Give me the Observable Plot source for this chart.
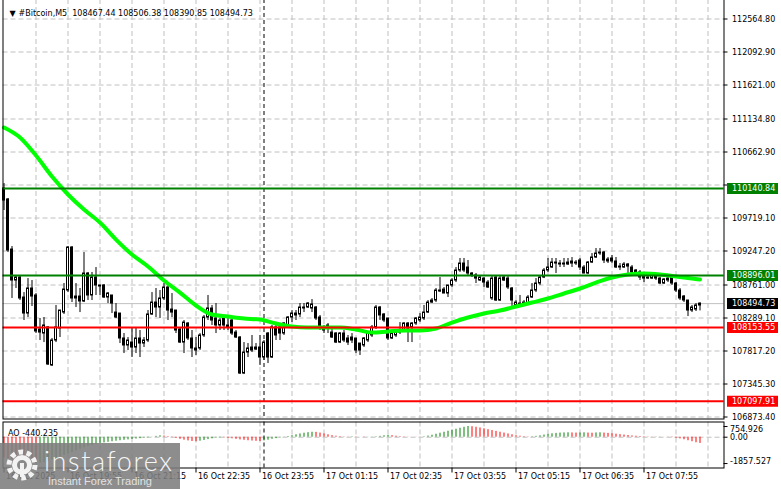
<!DOCTYPE html>
<html><head><meta charset="utf-8">
<script src="https://cdn.jsdelivr.net/npm/d3@7"></script>
<script src="https://cdn.jsdelivr.net/npm/@observablehq/plot@0.6"></script>
<style>
html,body{margin:0;padding:0;background:#fff;}
#wrap{position:relative;width:781px;height:489px;overflow:hidden;background:#fff;}
#wrap svg{display:block;}
#wm{position:absolute;left:0;top:0;pointer-events:none;}
</style></head><body><div id="wrap"></div>
<script>
// ---- candles (#Bitcoin M5, bar 0 = 16 Oct 18:35) ----
const open = [
110141,109984,109268,108825,108868,108582,108353,108711,108611,108124,
108067,108153,107610,107967,108139,108367,108682,109297,108568,108596,
108525,108925,108611,108868,108739,108754,108582,108611,108367,108353,
107996,107896,107938,107867,107996,107924,107967,108339,108510,108439,
108568,108725,108410,108396,108124,107938,108210,107996,107853,107853,
108039,108296,108425,108282,108182,108296,108182,108253,108081,108010,
107495,107795,107867,107867,107867,107724,108067,107724,108153,108153,
108067,108182,108296,108325,108339,108425,108439,108425,108439,108296,
108153,108182,108081,108067,107938,108067,107996,108010,107996,107924,
107896,107967,108039,108153,108439,108339,108282,107996,108039,108081,
108110,108210,108153,108210,108253,108282,108367,108510,108539,108668,
108696,108639,108754,108825,108968,109068,109011,108925,108897,108825,
108853,108796,108568,108868,108539,108868,108853,108711,108468,108496,
108482,108496,108582,108682,108782,108868,108968,109011,109082,109068,
109068,109054,109097,109082,109111,109011,108925,109082,109154,109211,
109225,109125,109140,109097,109025,109011,109054,109011,108968,108940,
108897,108853,108853,108897,108853,108782,108825,108868,108782,108682,
108596,108539,108396,108410,108467.44];
const high = [
110212,109998,109311,108882,108882,108653,108853,108825,108639,108282,
108296,108167,107996,108468,108396,108782,109311,109311,108782,108711,
109225,108940,108940,109011,108754,108768,108653,108611,108496,108353,
108067,108010,108153,108139,108110,108010,108396,108653,108711,108682,
108782,108754,108639,108396,108153,108253,108224,108110,108010,108067,
108325,108611,108468,108496,108282,108325,108296,108282,108110,108024,
107938,107924,108039,107924,108039,107967,108081,108182,108210,108182,
108224,108310,108396,108396,108496,108496,108510,108553,108453,108325,
108182,108210,108139,108081,108081,108110,108039,108067,107996,107924,
108010,108081,108182,108468,108453,108353,108282,108081,108110,108224,
108224,108224,108224,108296,108353,108468,108539,108568,108711,108868,
108725,108754,108853,109011,109140,109140,109111,108940,108925,108897,
108868,108825,108882,108882,108882,108897,108882,108725,108539,108611,
108539,108611,108782,108853,108897,108997,109140,109140,109140,109111,
109140,109140,109154,109111,109140,109040,109097,109211,109283,109283,
109240,109154,109183,109154,109068,109082,109068,109040,108982,108968,
108925,108882,108911,108925,108868,108853,108868,108897,108796,108711,
108611,108539,108468,108496,108506.38];
const low = [
109826,109225,108568,108711,108539,108253,108296,108453,108067,107967,
107938,107610,107595,107938,108010,108339,108653,108510,108439,108367,
108510,108539,108539,108611,108611,108568,108496,108353,108282,107924,
107781,107824,107724,107781,107724,107867,107938,108325,108296,108282,
108539,108253,108296,108067,107924,107781,107967,107724,107753,107824,
108010,108253,108182,108067,108110,108110,108110,108039,107996,107481,
107481,107724,107795,107824,107610,107681,107638,107710,107967,107967,
108039,108153,108224,108253,108296,108367,108425,108367,108253,108110,
108067,108067,107996,107924,107924,107938,107896,107924,107781,107753,
107867,107938,108010,108124,108253,108224,107967,107981,108010,108053,
108081,107938,107938,108182,108224,108253,108353,108496,108510,108653,
108639,108582,108725,108796,108940,108940,108897,108868,108782,108811,
108725,108711,108539,108525,108525,108811,108696,108439,108453,108453,
108453,108468,108568,108653,108754,108853,108940,108997,108925,109011,
109011,109040,109011,109040,108968,108925,108911,109068,109140,109183,
109068,109068,109068,108997,108968,108997,108925,108925,108925,108825,
108796,108839,108839,108825,108768,108768,108796,108754,108653,108539,
108510,108310,108367,108382,108390.85];
const close = [
109969,109254,108825,108868,108568,108353,108711,108596,108096,108081,
108182,107624,107967,108153,108396,108696,109297,108568,108596,108525,
108925,108611,108868,108754,108754,108582,108639,108496,108296,107996,
107896,107967,107867,107996,107924,107967,108339,108510,108439,108568,
108725,108396,108367,108110,107938,108224,107996,107853,107824,108039,
108296,108425,108253,108182,108253,108182,108153,108067,108010,107495,
107795,107853,107824,107838,107724,107938,107724,108153,108039,108067,
108210,108296,108353,108353,108439,108439,108496,108482,108282,108167,
108110,108139,108010,107938,108067,107967,107938,107967,107824,107824,
107996,108067,108153,108439,108325,108253,107996,108067,108081,108110,
108210,108139,108210,108282,108296,108367,108510,108539,108682,108682,
108639,108754,108825,108968,109068,108968,108925,108897,108853,108868,
108796,108725,108853,108539,108853,108825,108725,108539,108510,108468,
108510,108582,108682,108782,108868,108968,109011,109082,109068,109054,
109054,109082,109068,109068,109011,108925,109082,109154,109211,109225,
109111,109097,109097,109011,109011,109054,109025,108940,108940,108868,
108853,108868,108897,108853,108782,108839,108853,108782,108682,108568,
108539,108396,108439,108468,108494.73];

// ---- moving average (read at every 4th bar) ----
const maBar = [0,4,8,12,16,20,24,28,32,36,40,44,48,52,56,60,64,68,72,76,80,84,88,92,96,100,
  104,108,112,116,120,124,128,132,136,140,144,148,152,156,160,164,168,172,174];
const maValue = [111013,110870,110612,110312,110055,109840,109654,109411,109197,109025,108825,
  108653,108468,108339,108310,108282,108267,108210,108167,108153,108153,108153,108124,108081,
  108096,108110,108110,108139,108224,108296,108353,108396,108453,108510,108568,108639,108711,
  108796,108868,108911,108925,108911,108882,108853,108839];

// ---- Awesome Oscillator ----
const aoValue = [
-1450,-1520,-1600,-1660,-1720,-1770,-1810,-1840,-1857.527,-1830,
-1780,-1700,-1610,-1510,-1400,-1290,-1180,-1070,-960,-850,
-750,-660,-580,-510,-450,-400,-360,-320,-285,-250,
-220,-190,-160,-130,-100,-70,-40,-10,60,100,
80,40,-30,-90,-150,-210,-260,-300,-320,-280,
-230,-170,-110,-60,-40,-50,-70,-110,-150,-190,
-220,-250,-270,-290,-300,-260,-210,-150,-100,-50,
-10,50,110,170,230,280,320,350,340,290,
230,170,110,70,40,20,10,30,20,0,
-20,-10,10,30,60,100,130,110,70,40,
20,10,0,-10,10,30,80,140,210,280,
350,420,490,560,630,700,754.926,740,700,650,
590,530,470,410,350,290,230,170,110,70,
40,20,30,60,100,150,200,240,270,290,
300,310,300,290,300,310,290,280,300,310,
290,270,240,210,180,150,120,90,70,50,
30,20,10,20,10,0,-10,-30,-70,-120,
-180,-250,-320,-390,-440.235];

// ---- levels and labels ----
const levelPrice = [110140.84, 108896.01, 108153.55, 107097.91];
const levelLabel = ["110140.84", "108896.01", "108153.55", "107097.91"];
const levelColor = ["#008000", "#008000", "#ff0000", "#ff0000"];
const lastPrice = 108494.73;
const lastLabel = "108494.73";
const gridPrice = [112564.80,112092.90,111621.00,111134.80,110662.90,110191.00,109719.10,109247.20,108761.00,108289.10,107817.20,107345.30,106873.40];
const axisPrice = [112564.80,112092.90,111621.00,111134.80,110662.90,109719.10,109247.20,108761.00,108289.10,107817.20,107345.30,106873.40];
const axisLabel = ["112564.80","112092.90","111621.00","111134.80","110662.90","109719.10","109247.20","108761.00","108289.10","107817.20","107345.30","106873.40"];
const gridBar = [8,16,24,32,40,48,56,64,72,80,88,96,104,112,120,128,136,144,152,160,168,176];
const timeBar = [0,16,32,48,64,80,96,112,128,144,160];
const timeLabel = ["16 Oct 2025","16 Oct 19:55","16 Oct 21:15","16 Oct 22:35","16 Oct 23:55","17 Oct 01:15","17 Oct 02:35","17 Oct 03:55","17 Oct 05:15","17 Oct 06:35","17 Oct 07:55"];
const sepBar = 65; // 17 Oct 00:00
const aoTickValue = [754.926, 0, -1857.527];
const aoTickLabel = ["754.926", "0.00", "-1857.527"];
const titleText = "#Bitcoin,M5  108467.44 108506.38 108390.85 108494.73";
const aoTitle = "AO -440.235";

const FONT = "DejaVu Sans, Verdana, sans-serif";
const n = Math.min(open.length, high.length, low.length, close.length);
const bars = d3.range(n).map(i => ({i, o: open[i], h: high[i], l: low[i], c: close[i]}));
const ma = maBar.map((b, j) => ({i: b, v: maValue[j]}));
const ao = aoValue.map((v, i) => ({i, v, up: i > 0 && v >= aoValue[i - 1]}));
const levels = levelPrice.map((v, j) => ({v, t: levelLabel[j], c: levelColor[j]}));
const boxes = levels.concat([{v: lastPrice, t: lastLabel, c: "#000000"}]);
const axisItems = axisPrice.map((v, j) => ({v, t: axisLabel[j]}));
const timeItems = timeBar.map((b, j) => ({i: b, t: timeLabel[j]}));
const aoTicks = aoTickValue.map((v, j) => ({v, t: aoTickLabel[j]}));

const xScale = {type: "linear", domain: [0, 180], range: [3.5, 723.5], axis: null};
const grid = {stroke: "#c0c0c0", strokeDasharray: "5,3"};

const main = Plot.plot({
  width: 781, height: 420,
  marginLeft: 2.5, marginRight: 57.5, marginTop: -1, marginBottom: 1.5,
  style: {fontFamily: FONT, fontSize: "8px", background: "white", overflow: "visible"},
  x: xScale,
  y: {type: "linear", domain: [106823.35, 112829.35], range: [420, 0], axis: null},
  marks: [
    Plot.ruleY(gridPrice, grid),
    Plot.ruleX(gridBar, grid),
    Plot.ruleY([lastPrice], {stroke: "#c0c0c0"}),
    Plot.ruleX([sepBar], {stroke: "black", strokeDasharray: "4,3"}),
    Plot.ruleX(bars, {x: "i", y1: "l", y2: "h", stroke: "black"}),
    Plot.rect(bars, {x1: d => d.i - 0.25, x2: d => d.i + 0.25, y1: "o", y2: "c",
      fill: d => d.c >= d.o ? "white" : "black", stroke: "black"}),
    Plot.line(ma, {x: "i", y: "v", stroke: "#00ff00", strokeWidth: 4, curve: "monotone-x"}),
    Plot.ruleY(levels, {y: "v", stroke: "c", strokeWidth: 2}),
    Plot.frame({stroke: "black"}),
    Plot.ruleY(gridPrice, {x1: 180, x2: 181, stroke: "black"}),
    Plot.text(axisItems, {x: 180, y: "v", text: "t", textAnchor: "start", dx: 8, fill: "black"}),
    Plot.ruleY(boxes, {y: "v", x1: 180.875, x2: 193.625, stroke: "c", strokeWidth: 11}),
    Plot.text(boxes, {x: 180, y: "v", text: "t", textAnchor: "start", dx: 8, fill: "white"}),
    Plot.text(["\u25BC"], {frameAnchor: "top-left", dx: 6.5, dy: 10.5, textAnchor: "start", fontSize: 8}),
    Plot.text([titleText], {frameAnchor: "top-left", dx: 15.5, dy: 10.5, textAnchor: "start", fill: "black"})
  ]
});

const aoPlot = Plot.plot({
  width: 781, height: 69,
  marginLeft: 2.5, marginRight: 57.5, marginTop: 1.5, marginBottom: 21.5,
  style: {fontFamily: FONT, fontSize: "8px", background: "white", overflow: "visible"},
  x: xScale,
  y: {type: "linear", domain: [-2171, 1072], range: [47.5, 1.5], axis: null},
  marks: [
    Plot.ruleY([0], grid),
    Plot.ruleX(gridBar, grid),
    Plot.ruleX([sepBar], {stroke: "black", strokeDasharray: "4,3"}),
    Plot.ruleX(ao, {x: "i", y1: 0, y2: "v", stroke: d => d.up ? "#008000" : "#ff0000"}),
    Plot.frame({stroke: "black"}),
    Plot.ruleY(aoTicks, {y: "v", x1: 180, x2: 181, stroke: "black"}),
    Plot.text(aoTicks, {x: 180, y: "v", text: "t", textAnchor: "start", dx: 6,
      dy: 0, fill: "black", lineAnchor: "middle"}),
    Plot.text([aoTitle], {frameAnchor: "top-left", dx: 5, dy: 8.5, textAnchor: "start", fill: "black"}),
    Plot.ruleX(timeBar, {insetTop: 41, dy: 5, stroke: "black"}),
    Plot.text(timeItems, {x: "i", text: "t", frameAnchor: "bottom", dy: 10.5, dx: 2, textAnchor: "start", fill: "black"})
  ]
});

const wrap = document.getElementById("wrap");
wrap.appendChild(main);
wrap.appendChild(aoPlot);

// nudge the outer AO scale labels inward like the terminal does
aoPlot.querySelectorAll("text").forEach(t => {
  if (t.textContent === "754.926") t.setAttribute("transform", (t.getAttribute("transform") || "") + " translate(0,3)");
  if (t.textContent === "-1857.527") t.setAttribute("transform", (t.getAttribute("transform") || "") + " translate(0,-2)");
});

// watermark overlay
const ns = "http://www.w3.org/2000/svg";
const wm = document.createElementNS(ns, "svg");
wm.setAttribute("id", "wm");
wm.setAttribute("width", 781);
wm.setAttribute("height", 489);
wm.innerHTML = `
<rect x="0" y="443" width="180" height="46" fill="#7d7d7d" fill-opacity="0.88"/>
<g transform="translate(22,465)">
  <circle r="13" fill="none" stroke="#f2f2f2" stroke-width="5" stroke-dasharray="4.6 3.6"/>
  <circle r="10" fill="#f2f2f2"/>
  <circle r="5" fill="#8a8a8a"/>
  <rect x="-2" y="-2" width="4" height="14" fill="#f2f2f2"/>
</g>
<text x="44" y="471" fill="#f6f6f6" font-family="Lato, 'Open Sans', sans-serif" font-weight="300" font-size="27" letter-spacing="1.6">instaforex</text>
<text x="48" y="485" fill="#e2e2e2" font-family="'Liberation Sans', Arial, sans-serif" font-size="11">Instant Forex Trading</text>`;
wrap.appendChild(wm);
</script>
</body></html>
